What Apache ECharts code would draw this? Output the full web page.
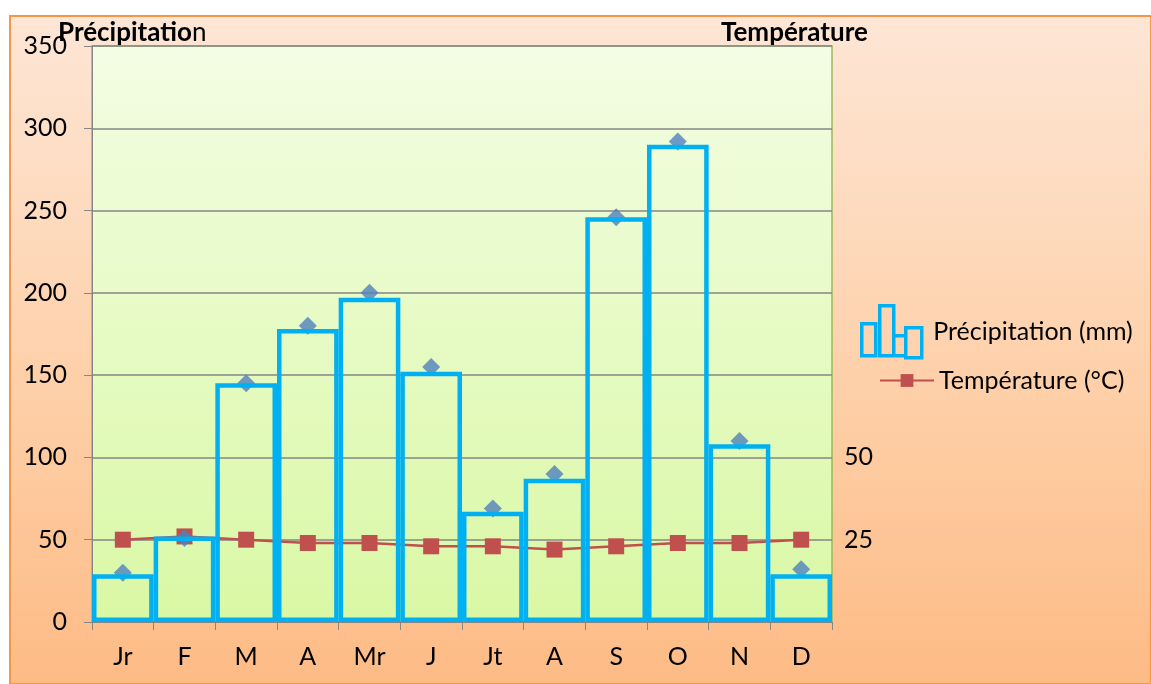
<!DOCTYPE html>
<html>
<head>
<meta charset="utf-8">
<script src="https://cdn.jsdelivr.net/npm/echarts@6/dist/echarts.min.js"></script>
<style>
  html, body { margin: 0; padding: 0; background: #fff; }
  #chart { width: 1151px; height: 684px; }
</style>
</head>
<body>
<div id="chart"></div>
<script>
const months = ['Jr', 'F', 'M', 'A', 'Mr', 'J', 'Jt', 'A', 'S', 'O', 'N', 'D'];
const precipBars = [29, 52, 145, 178, 197, 152, 67, 87, 246, 290, 108, 29];
const precipPoints = [30, 51, 145, 180, 200, 155, 69, 90, 246, 292, 110, 32];
const temperature = [25, 26, 25, 24, 24, 23, 23, 22, 23, 24, 24, 25];
const rightLabels = [25, 50];

const font = 'Lato';
const fs = 25;
const chart = echarts.init(document.getElementById('chart'));

chart.setOption({
  backgroundColor: '#fff',
  animation: false,
  textStyle: { fontFamily: font },
  graphic: [
    {
      type: 'rect',
      z: -10,
      shape: { x: 10, y: 16, width: 1141, height: 668 },
      style: {
        fill: new echarts.graphic.LinearGradient(0, 0, 0, 1, [
          { offset: 0, color: '#fde6d6' },
          { offset: 0.5, color: '#fed2ad' },
          { offset: 1, color: '#fdbb85' }
        ]),
        stroke: '#f79646',
        lineWidth: 2
      }
    }
  ],
  title: [
    {
      text: '{b|Précipitatio}{n|n}',
      left: 53,
      top: 15,
      textStyle: {
        rich: {
          b: { fontFamily: font, fontWeight: 'bold', fontSize: 26, color: '#000' },
          n: { fontFamily: font, fontWeight: 'normal', fontSize: 26, color: '#000' }
        }
      }
    },
    {
      text: 'Température',
      left: 716,
      top: 15,
      textStyle: { fontFamily: font, fontWeight: 'bold', fontSize: 26, color: '#000' }
    }
  ],
  legend: [
    {
      left: 855,
      top: 299,
      itemWidth: 73,
      itemHeight: 52,
      textStyle: { fontFamily: font, fontSize: fs, color: '#000' },
      data: [{
        name: 'Précipitation (mm)',
        icon: 'path://M0,18H14V50H0Z M18,0H32V50H18Z M32,30H44V50H32Z M44,22H60V52H44Z',
        itemStyle: { color: 'rgba(0,0,0,0)', borderColor: '#00b0f0', borderWidth: 3.5 }
      }]
    },
    {
      left: 874,
      top: 363,
      itemWidth: 54,
      itemHeight: 16,
      textStyle: { fontFamily: font, fontSize: fs, color: '#000' },
      data: ['Température (°C)']
    }
  ],
  grid: {
    left: 92,
    right: 319,
    top: 46,
    bottom: 62,
    show: true,
    borderColor: '#9bbb59',
    borderWidth: 1.5,
    backgroundColor: new echarts.graphic.LinearGradient(0, 0, 0, 1, [
      { offset: 0, color: '#f3fde4' },
      { offset: 1, color: '#d9f8a4' }
    ])
  },
  xAxis: {
    type: 'category',
    data: months,
    boundaryGap: true,
    axisLine: { lineStyle: { color: '#868686' } },
    axisTick: { show: true, length: 8, lineStyle: { color: '#868686' } },
    axisLabel: { margin: 22, fontSize: fs, color: '#000', fontFamily: font }
  },
  yAxis: [
    {
      type: 'value',
      min: 0,
      max: 350,
      interval: 50,
      axisLine: { show: true, lineStyle: { color: '#868686' } },
      axisTick: { show: true, length: 8, lineStyle: { color: '#868686' } },
      axisLabel: { margin: 25, fontSize: fs, color: '#000', fontFamily: font },
      splitLine: { lineStyle: { color: '#868686', width: 1.5 } }
    },
    {
      type: 'value',
      min: 0,
      max: 175,
      interval: 25,
      position: 'right',
      axisLine: { show: false },
      axisTick: { show: false },
      splitLine: { show: false },
      axisLabel: {
        margin: 12,
        fontSize: fs,
        color: '#000',
        fontFamily: font,
        formatter: v => (rightLabels.indexOf(v) >= 0 ? String(v) : '')
      }
    }
  ],
  series: [
    {
      name: 'Température (°C)',
      type: 'line',
      yAxisIndex: 1,
      data: temperature,
      symbol: 'rect',
      symbolSize: 16,
      lineStyle: { color: '#c0504d', width: 2.5 },
      itemStyle: { color: '#c0504d' },
      z: 2
    },
    {
      name: 'points',
      type: 'scatter',
      data: precipPoints,
      symbol: 'diamond',
      symbolSize: [18, 18],
      itemStyle: { color: '#4f81bd' },
      z: 3
    },
    {
      name: 'Précipitation (mm)',
      type: 'bar',
      data: precipBars,
      barWidth: '100%',
      itemStyle: { color: 'rgba(0,0,0,0)', borderColor: '#00b0f0', borderWidth: 4.5 },
      z: 4
    }
  ]
});
</script>
</body>
</html>
